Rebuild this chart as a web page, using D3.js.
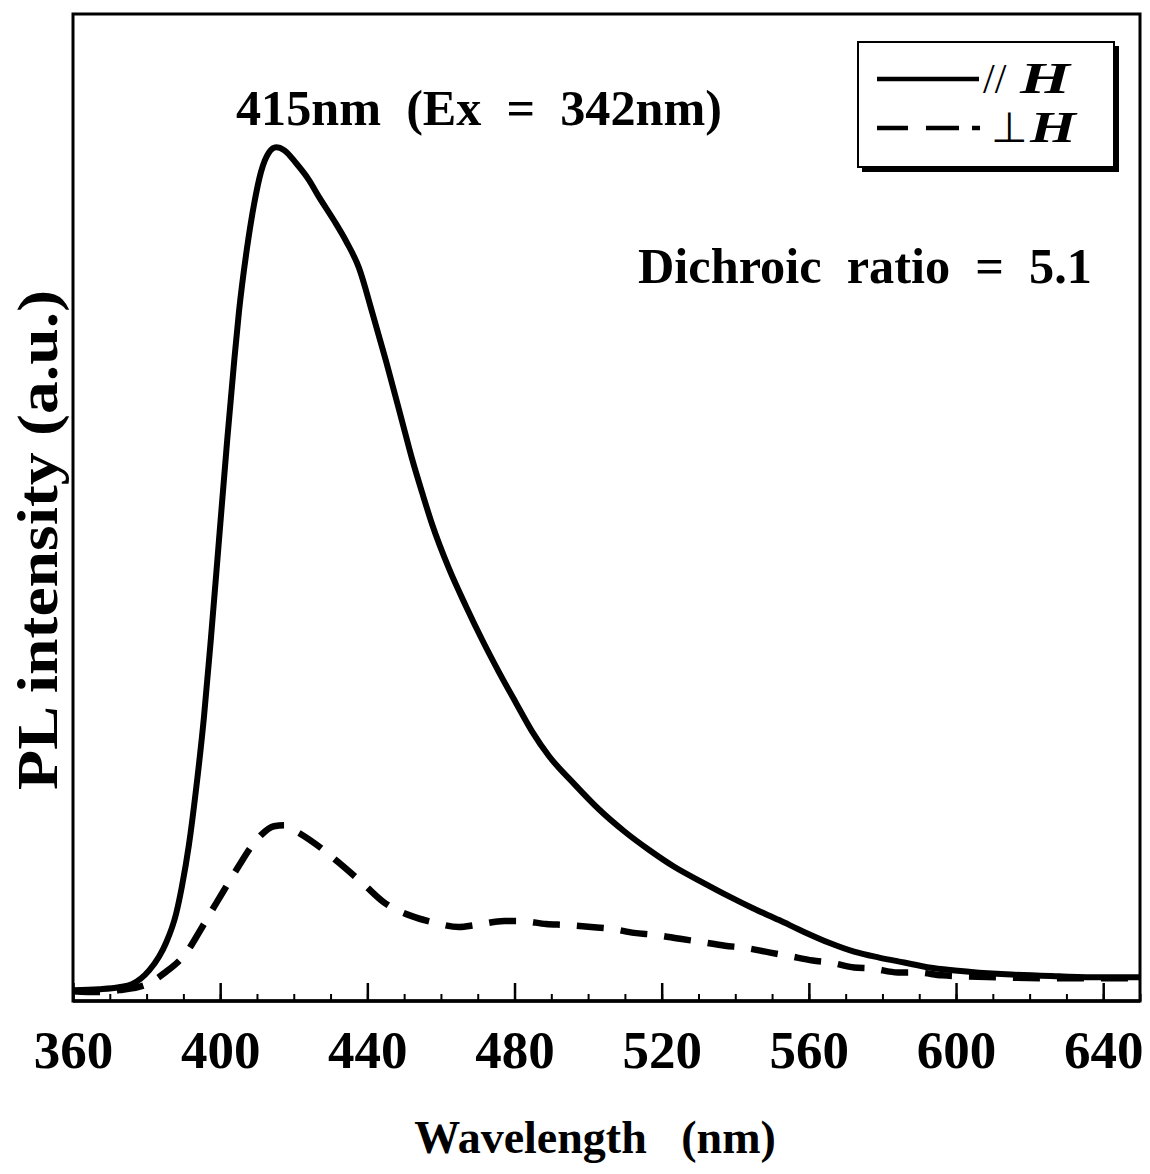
<!DOCTYPE html>
<html>
<head>
<meta charset="utf-8">
<script src="https://cdn.jsdelivr.net/npm/d3@7"></script>
<style>
  html, body { margin: 0; padding: 0; background: #fff; }
  text { font-family: "Liberation Serif", "Times New Roman", serif; font-weight: bold; fill: #000; }
</style>
</head>
<body>
<svg id="chart" width="1150" height="1174"></svg>
<script>
// ---- data ----
const solidWavelength = [360,367,372.5,376,380.7,383.4,385.3,388,389.6,391.5,393.4,395.6,397.5,399.7,401.9,403.8,405.1,407.3,409.2,411.1,413.3,415.2,417.4,420.6,424.1,426.8,430.9,434.2,437.7,441.3,445.1,449.4,452.1,454.9,457.6,462.2,466.8,471.2,475.8,480.4,484.8,489.4,496.2,503,509.8,516.6,523.4,531.2,538.3,544.8,551.9,558.7,565.5,572.3,579.1,585.9,592.7,599.7,613.6,628,638.9,650];
const solidIntensity = [1.1,1.2,1.4,1.7,3.1,4.5,5.9,8.8,11.6,15.8,21.3,28.8,36.8,46.8,56.8,64.8,69.8,76.3,80.7,84.0,86.0,86.5,86.2,84.9,83.2,81.5,79.1,77.0,74.3,69.8,64.8,58.8,55.0,51.5,48.3,43.8,40.0,36.6,33.3,30.2,27.3,24.8,22.0,19.4,17.2,15.3,13.6,12.0,10.6,9.4,8.2,7.0,5.9,5.0,4.4,3.9,3.4,3.1,2.7,2.5,2.4,2.4];

const dashWavelength = [360,367.1,372.5,380.1,384.7,391,394.8,398.9,401,405.1,408.4,411.1,414.6,417.4,420.1,427.4,432.3,439.1,444.5,452.1,457.6,464.9,469.5,477.2,481.8,488.6,494,500.8,506.5,512.5,518.2,525,530.4,537.2,542.4,549.5,554.1,561.1,565.8,572.3,577.2,584.2,589.4,596.2,611.7,628,650];
const dashIntensity = [1.0,0.9,1.1,1.7,2.8,5.0,7.3,9.9,11.2,13.7,15.6,16.8,17.7,17.8,17.3,15.5,14.0,11.8,10.0,8.6,8.0,7.5,7.7,8.1,8.1,7.8,7.7,7.5,7.3,6.9,6.7,6.3,6.0,5.6,5.4,4.9,4.6,4.1,3.9,3.4,3.3,2.9,2.9,2.6,2.4,2.3,2.3];

const majorTicks = [360,400,440,480,520,560,600,640];
const minorTicks = d3.range(360, 651, 10);
const xDomain = [360, 650];
const yDomain = [0, 100];

const peakLabel = "415nm  (Ex  =  342nm)";
const ratioLabel = "Dichroic  ratio  =  5.1";
const xTitle = "Wavelength   (nm)";
const yTitle = "PL intensity (a.u.)";

// ---- layout ----
const L = 73, R = 1140, T = 14, B = 1001;
const svg = d3.select("#chart");
svg.append("rect").attr("width",1150).attr("height",1174).attr("fill","#fff");

const x = d3.scaleLinear().domain(xDomain).range([L, R]);
const y = d3.scaleLinear().domain(yDomain).range([B, T]);

// frame
svg.append("rect").attr("x",L).attr("y",T).attr("width",R-L).attr("height",B-T)
  .attr("fill","none").attr("stroke","#000").attr("stroke-width",3);

// minor ticks
const minorAxis = d3.axisBottom(x).tickValues(minorTicks).tickSize(-7).tickFormat("");
const gMinor = svg.append("g").attr("transform",`translate(0,${B})`).call(minorAxis);
gMinor.select(".domain").remove();
gMinor.selectAll(".tick line").attr("stroke","#000").attr("stroke-width",2);

// major ticks + labels
const majorAxis = d3.axisBottom(x).tickValues(majorTicks).tickSize(-18).tickFormat(d3.format("d"));
const gMajor = svg.append("g").attr("transform",`translate(0,${B})`).call(majorAxis);
gMajor.select(".domain").remove();
gMajor.selectAll(".tick line").attr("stroke","#000").attr("stroke-width",2.5);
gMajor.selectAll(".tick text")
  .attr("y", 67).attr("dy", 0)
  .style("font-family", "'Liberation Serif', serif")
  .style("font-weight", "bold")
  .style("font-size", "53px")
  .attr("fill","#000");
svg.append("line").attr("x1",L).attr("x2",R).attr("y1",B).attr("y2",B)
  .attr("stroke","#000").attr("stroke-width",3.5);

// curves
const line = d3.line().x(d => x(d[0])).y(d => y(d[1])).curve(d3.curveMonotoneX);
const solidData = solidWavelength.map((w,i) => [w, solidIntensity[i]]);
const dashData = dashWavelength.map((w,i) => [w, dashIntensity[i]]);

svg.append("path").datum(dashData).attr("d", line)
  .attr("fill","none").attr("stroke","#000").attr("stroke-width",6.5)
  .attr("stroke-dasharray","27,17").attr("stroke-linejoin","round");
svg.append("path").datum(solidData).attr("d", line)
  .attr("fill","none").attr("stroke","#000").attr("stroke-width",6)
  .attr("stroke-linejoin","round");

// annotations
svg.append("text").attr("x",236).attr("y",125).style("font-size","50px")
  .attr("textLength",486).attr("lengthAdjust","spacingAndGlyphs")
  .style("white-space","pre").attr("xml:space","preserve").text(peakLabel);
svg.append("text").attr("x",638).attr("y",283).style("font-size","50px")
  .attr("textLength",454).attr("lengthAdjust","spacingAndGlyphs")
  .style("white-space","pre").attr("xml:space","preserve").text(ratioLabel);

// axis titles
svg.append("text").attr("x",595).attr("y",1153).attr("text-anchor","middle")
  .style("font-size","46px").style("white-space","pre").attr("xml:space","preserve").text(xTitle);
svg.append("text").attr("transform","translate(57,540) rotate(-90)").attr("text-anchor","middle")
  .style("font-size","58px").attr("textLength",500).attr("lengthAdjust","spacingAndGlyphs")
  .text(yTitle);

// legend
const lg = svg.append("g");
lg.append("rect").attr("x",862).attr("y",46).attr("width",257).attr("height",126).attr("fill","#000");
lg.append("rect").attr("x",858).attr("y",42).attr("width",256).attr("height",125)
  .attr("fill","#fff").attr("stroke","#000").attr("stroke-width",2);
lg.append("line").attr("x1",877).attr("x2",979).attr("y1",79).attr("y2",79)
  .attr("stroke","#000").attr("stroke-width",4.5);
lg.append("line").attr("x1",877).attr("x2",980).attr("y1",128).attr("y2",128)
  .attr("stroke","#000").attr("stroke-width",4.5).attr("stroke-dasharray","31,18,33,13");
lg.append("text").attr("x",983).attr("y",93).style("font-size","42px").style("font-weight","normal").text("//");
lg.append("text").attr("x",1020).attr("y",93).style("font-size","44px").style("font-style","italic")
  .attr("textLength",50).attr("lengthAdjust","spacingAndGlyphs").text("H");
lg.append("text").attr("x",991).attr("y",142).style("font-size","42px").style("font-weight","normal")
  .style("font-family","'DejaVu Sans', sans-serif").text("\u22A5");
lg.append("text").attr("x",1030).attr("y",142).style("font-size","44px").style("font-style","italic")
  .attr("textLength",46).attr("lengthAdjust","spacingAndGlyphs").text("H");
</script>
</body>
</html>
